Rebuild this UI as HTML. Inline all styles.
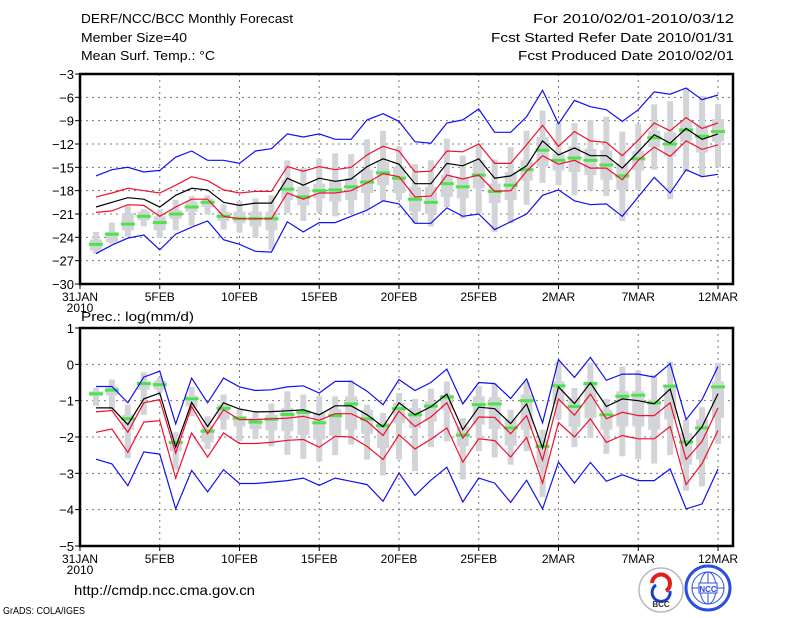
<!DOCTYPE html>
<html><head><meta charset="utf-8"><style>
html,body{margin:0;padding:0;background:#fff;}
svg{display:block;font-family:"Liberation Sans",sans-serif;}
</style></head><body>
<svg id="chart" width="800" height="618" viewBox="0 0 800 618" xmlns="http://www.w3.org/2000/svg">
<rect width="800" height="618" fill="#fff"/>
<g font-size="13" fill="#000">
<text x="81" y="23" textLength="212" lengthAdjust="spacingAndGlyphs">DERF/NCC/BCC Monthly Forecast</text>
<text x="81" y="42" textLength="106" lengthAdjust="spacingAndGlyphs">Member Size=40</text>
<text x="81" y="60" textLength="134" lengthAdjust="spacingAndGlyphs">Mean Surf. Temp.: °C</text>
<text x="533" y="23" textLength="201" lengthAdjust="spacingAndGlyphs">For 2010/02/01-2010/03/12</text>
<text x="491" y="42" textLength="243" lengthAdjust="spacingAndGlyphs">Fcst Started Refer Date 2010/01/31</text>
<text x="518" y="60" textLength="216" lengthAdjust="spacingAndGlyphs">Fcst Produced Date 2010/02/01</text>
<text x="81" y="321" textLength="113" lengthAdjust="spacingAndGlyphs">Prec.: log(mm/d)</text>
<text x="74" y="595" font-size="14" textLength="181" lengthAdjust="spacingAndGlyphs">http://cmdp.ncc.cma.gov.cn</text>
<text x="3" y="614" font-size="10" textLength="82" lengthAdjust="spacingAndGlyphs">GrADS: COLA/IGES</text>
</g>
<g id="top"></g>
<g id="bot"></g>
<g>
<circle cx="661" cy="590" r="22" fill="#fff" stroke="#bbb" stroke-width="1.5"/>
<path d="M652 583 a9 9 0 1 1 14 8" fill="none" stroke="#e02020" stroke-width="4"/>
<path d="M670 591 a9 9 0 1 1 -14 -6" fill="none" stroke="#1a3fd0" stroke-width="3"/>
<text x="661" y="607" font-size="8" font-weight="bold" text-anchor="middle" fill="#333">BCC</text>
</g>
<g>
<circle cx="708" cy="588" r="22" fill="#fff" stroke="#2a4fe0" stroke-width="3"/>
<ellipse cx="708" cy="588" rx="16" ry="16" fill="none" stroke="#2a4fe0" stroke-width="1"/>
<line x1="692" y1="588" x2="724" y2="588" stroke="#2a4fe0"/>
<line x1="708" y1="572" x2="708" y2="604" stroke="#2a4fe0"/>
<ellipse cx="708" cy="588" rx="8" ry="16" fill="none" stroke="#2a4fe0"/>
<rect x="699" y="583" width="18" height="10" fill="#fff" stroke="#2a4fe0"/>
<text x="708" y="592" font-size="8" font-weight="bold" text-anchor="middle" fill="#2a4fe0">NCC</text>
</g>
</svg>
<script>
// ---- temperature data (days 1..40 = 1FEB..12MAR) ----
const tBlueU=[-16.1,-15.3,-15.0,-15.6,-15.4,-13.7,-12.9,-14.1,-14.1,-14.5,-12.9,-12.6,-10.7,-11.1,-10.7,-11.4,-11.4,-8.9,-8.1,-9.1,-11.7,-11.9,-9.3,-8.9,-7.5,-10.5,-10.5,-8.5,-5.1,-9.4,-6.4,-7.2,-7.6,-9.1,-7.6,-5.3,-5.6,-4.8,-6.3,-5.7];
const tRedU=[-18.8,-18.3,-17.7,-18.0,-18.3,-17.3,-16.2,-16.7,-17.9,-18.3,-18.1,-18.1,-14.9,-15.5,-14.9,-15.3,-15.0,-13.4,-12.3,-12.9,-15.6,-15.5,-12.9,-13.0,-12.0,-14.5,-14.5,-12.1,-9.6,-12.3,-10.4,-11.6,-11.8,-13.5,-11.5,-9.3,-10.3,-8.6,-10.0,-9.3];
const tMean=[-20.1,-19.5,-18.9,-19.1,-20.1,-18.6,-17.7,-17.9,-19.5,-19.9,-19.6,-19.6,-16.4,-17.3,-16.4,-16.8,-16.5,-14.9,-13.9,-14.6,-17.1,-17.1,-14.5,-14.8,-13.9,-16.4,-16.1,-14.8,-11.6,-13.4,-12.5,-13.5,-13.5,-15.1,-13.0,-10.8,-11.9,-10.0,-11.4,-10.7];
const tRedL=[-20.8,-20.6,-19.8,-19.9,-21.3,-20.1,-19.1,-19.1,-21.3,-21.6,-21.6,-21.6,-18.3,-19.1,-18.3,-18.3,-18.0,-17.0,-15.8,-16.2,-18.8,-18.7,-16.0,-16.5,-16.0,-18.1,-18.0,-15.5,-13.5,-14.6,-14.1,-15.1,-15.1,-16.6,-14.1,-12.4,-13.6,-11.6,-12.7,-12.1];
const tBlueL=[-26.1,-25.0,-24.1,-23.7,-25.6,-23.6,-22.7,-21.9,-24.3,-24.9,-25.8,-25.9,-22.0,-23.3,-22.1,-22.1,-21.3,-20.5,-19.3,-19.7,-22.2,-22.2,-20.2,-21.3,-21.0,-23.0,-22.0,-21.0,-18.6,-17.9,-19.3,-19.8,-19.7,-21.3,-18.8,-16.3,-18.3,-15.3,-16.2,-15.9];
const tObs=[-24.9,-23.6,-22.3,-21.3,-22.1,-21.0,-20.1,-19.5,-21.3,-21.6,-21.6,-21.6,-17.8,-18.8,-18.0,-17.9,-17.5,-16.9,-15.7,-16.4,-19.1,-19.5,-17.1,-17.5,-16.0,-18.1,-17.3,-15.3,-12.8,-14.1,-13.8,-14.1,-14.7,-16.1,-13.9,-11.2,-12.0,-10.2,-11.0,-10.4];
const tWhiskHi=[-23.3,-22.1,-19.9,-20.4,-20.4,-19.2,-18.7,-18.6,-19.8,-19.3,-19.0,-18.6,-14.1,-15.1,-13.9,-13.2,-13.3,-11.4,-10.3,-12.3,-14.6,-14.1,-11.3,-13.5,-11.9,-14.0,-12.4,-10.3,-7.7,-9.3,-9.3,-8.9,-8.5,-10.4,-9.4,-6.9,-6.5,-4.8,-5.8,-6.9];
const tWhiskLo=[-26.1,-24.8,-23.9,-22.6,-24.1,-23.1,-22.5,-21.1,-23.0,-23.4,-24.1,-25.6,-20.9,-21.9,-20.8,-21.3,-21.0,-20.4,-19.3,-19.2,-22.2,-22.6,-20.1,-21.6,-20.9,-23.3,-22.2,-19.8,-17.0,-17.3,-18.6,-18.0,-18.7,-21.9,-17.9,-15.3,-19.1,-15.6,-16.2,-15.0];
const tBoxHi=[-24.3,-23.3,-20.9,-20.7,-21.3,-20.5,-19.4,-19.0,-20.7,-20.7,-20.7,-20.7,-16.6,-17.5,-17.1,-16.6,-16.4,-15.3,-14.3,-14.9,-17.5,-17.5,-16.0,-16.4,-14.1,-17.1,-15.6,-14.1,-11.1,-13.3,-12.3,-12.6,-12.8,-14.5,-12.9,-10.3,-10.5,-9.1,-9.6,-8.8];
const tBoxLo=[-25.7,-24.6,-23.1,-21.8,-23.1,-21.6,-20.7,-20.1,-21.9,-22.2,-22.6,-23.1,-19.2,-19.9,-19.0,-19.4,-19.2,-18.3,-17.3,-18.3,-20.7,-21.0,-18.8,-19.0,-17.7,-19.6,-19.2,-16.7,-14.9,-15.4,-15.6,-16.0,-16.6,-17.9,-15.4,-12.4,-13.6,-11.7,-13.1,-11.7];
const tYTicks=[-3,-6,-9,-12,-15,-18,-21,-24,-27,-30];
// ---- precipitation data ----
const pBlueU=[-0.61,-0.61,-1.06,-0.35,-0.19,-1.64,-0.38,-1.06,-0.38,-0.62,-0.72,-0.70,-0.62,-0.59,-0.79,-0.47,-0.47,-0.74,-1.11,-0.42,-0.72,-0.50,-0.13,-1.09,-0.50,-0.53,-0.94,-0.40,-1.61,0.13,-0.36,0.19,-0.44,-0.27,-0.27,-0.35,0.02,-1.52,-0.97,-0.06];
const pRedU=[-1.31,-1.27,-1.87,-1.06,-0.97,-2.44,-1.16,-1.91,-1.25,-1.52,-1.52,-1.50,-1.48,-1.43,-1.54,-1.36,-1.36,-1.57,-1.96,-1.29,-1.71,-1.45,-1.06,-2.03,-1.45,-1.46,-1.91,-1.41,-2.64,-0.95,-1.40,-0.82,-1.50,-1.32,-1.41,-1.41,-1.06,-2.62,-2.12,-1.20];
const pMean=[-1.20,-1.20,-1.66,-0.95,-0.79,-2.28,-1.05,-1.71,-1.06,-1.23,-1.31,-1.30,-1.28,-1.25,-1.39,-1.14,-1.14,-1.39,-1.72,-1.06,-1.39,-1.17,-0.82,-1.80,-1.18,-1.22,-1.63,-1.09,-2.30,-0.62,-1.08,-0.51,-1.16,-0.95,-1.00,-1.09,-0.68,-2.24,-1.72,-0.81];
const pRedL=[-1.87,-1.78,-2.42,-1.59,-1.55,-3.13,-1.89,-2.55,-1.89,-2.18,-2.18,-2.15,-2.09,-2.07,-2.28,-1.98,-2.00,-2.26,-2.62,-1.94,-2.33,-2.06,-1.75,-2.69,-2.05,-2.10,-2.55,-2.01,-3.27,-1.60,-2.00,-1.50,-2.15,-1.96,-2.05,-2.05,-1.71,-3.31,-2.73,-1.82];
const pBlueL=[-2.61,-2.74,-3.34,-2.41,-2.47,-3.98,-2.92,-3.51,-2.90,-3.28,-3.28,-3.24,-3.20,-3.13,-3.33,-3.13,-3.22,-3.31,-3.77,-2.99,-3.61,-3.19,-2.83,-3.79,-3.13,-3.27,-3.80,-3.19,-3.98,-2.69,-3.27,-2.70,-3.22,-3.04,-3.20,-3.20,-2.88,-3.98,-3.84,-2.88];
const pObs=[-0.81,-0.71,-1.50,-0.53,-0.56,-2.15,-0.95,-1.84,-1.21,-1.48,-1.59,-1.51,-1.38,-1.32,-1.61,-1.41,-1.09,-1.50,-1.69,-1.22,-1.39,-1.15,-0.90,-1.95,-1.11,-1.09,-1.75,-1.00,-2.26,-0.59,-1.16,-0.53,-1.39,-0.88,-0.85,-1.06,-0.60,-2.14,-1.75,-0.62];
const pWhiskHi=[-0.65,-0.42,-1.11,-0.22,-0.36,-1.87,-0.62,-1.43,-0.83,-1.25,-1.32,-1.08,-0.74,-0.83,-0.88,-0.88,-0.44,-1.11,-1.34,-0.79,-0.95,-0.67,-0.47,-1.48,-0.59,-0.53,-1.25,-0.47,-1.80,0.08,-0.65,0.04,-0.95,-0.06,-0.17,-0.28,0.08,-1.52,-1.18,0.04];
const pWhiskLo=[-1.14,-1.25,-2.58,-1.39,-0.78,-2.90,-1.43,-2.33,-1.80,-2.12,-2.06,-2.26,-2.49,-2.60,-2.67,-2.50,-2.21,-2.62,-3.06,-2.62,-2.94,-2.28,-2.12,-3.17,-2.39,-2.56,-2.76,-2.39,-3.65,-1.52,-2.28,-2.03,-2.46,-2.53,-2.62,-2.73,-2.50,-3.48,-3.36,-2.19];
const pBoxHi=[-0.74,-0.61,-1.39,-0.47,-0.45,-2.10,-0.86,-1.69,-1.11,-1.43,-1.48,-1.39,-1.20,-1.25,-1.34,-1.23,-0.88,-1.25,-1.61,-1.06,-1.20,-1.02,-0.83,-1.71,-0.88,-0.91,-1.52,-0.83,-2.07,-0.47,-0.93,-0.47,-1.25,-0.74,-0.74,-0.97,-0.56,-1.89,-1.52,-0.47];
const pBoxLo=[-0.88,-0.85,-1.80,-0.70,-0.70,-2.39,-1.16,-2.15,-1.52,-1.71,-1.78,-1.82,-1.84,-1.94,-2.07,-1.96,-1.80,-1.91,-2.30,-1.61,-1.75,-1.57,-1.25,-2.26,-1.66,-1.78,-2.24,-1.80,-2.85,-1.08,-1.72,-1.48,-1.80,-1.71,-1.71,-1.80,-1.52,-2.76,-2.62,-1.48];
const pYTicks=[1,0,-1,-2,-3,-4,-5];
const xTickLabels=["31JAN","5FEB","10FEB","15FEB","20FEB","25FEB","2MAR","7MAR","12MAR"];
const xTickDays=[0,5,10,15,20,25,30,35,40];

const NS="http://www.w3.org/2000/svg";
function mk(parent,tag,attrs){const e=document.createElementNS(NS,tag);for(const k in attrs)e.setAttribute(k,attrs[k]);parent.appendChild(e);return e;}
const X0=80,X1=733,DX=15.95;
function xs(d){return X0+d*DX;}

function panel(g,top,bot,vmax,vmin,yticks,S,name){
  const ys=v=>top+(vmax-v)/(vmax-vmin)*(bot-top);
  yticks.forEach(v=>{
    if(v!==vmax&&v!==vmin){const l=mk(g,'line',{x1:X0,x2:X1,y1:ys(v),y2:ys(v),stroke:'#777','stroke-dasharray':'2,4','stroke-width':1});
    
    }
    mk(g,'line',{x1:X0-5,x2:X0,y1:ys(v),y2:ys(v),stroke:'#000'});
    const tx=mk(g,'text',{x:X0-6,y:ys(v)+5,'text-anchor':'end','font-size':13});
    tx.textContent=String(v).replace('-','\u2212');
    
    
  });
  xTickDays.forEach((d,i)=>{
    if(d>0){const l=mk(g,'line',{x1:xs(d),x2:xs(d),y1:top,y2:bot,stroke:'#777','stroke-dasharray':'2,4'});
    
    }
    mk(g,'line',{x1:xs(d),x2:xs(d),y1:bot,y2:bot+5,stroke:'#000'});
    const tx=mk(g,'text',{x:xs(d),y:bot+17,'text-anchor':'middle','font-size':12});
    tx.textContent=xTickLabels[i];
    
    
  });
  const yr=mk(g,'text',{x:xs(0),y:bot+28,'text-anchor':'middle','font-size':12});
  yr.textContent='2010';
  
  
  for(let i=0;i<S.obs.length;i++){
    const x=xs(i+1);
    const w=mk(g,'rect',{x:x-3,y:ys(S.wh[i]),width:6,height:Math.max(1,ys(S.wl[i])-ys(S.wh[i])),fill:'#d3d4d8'});
    
    
    const b=mk(g,'rect',{x:x-6,y:ys(S.bh[i]),width:12,height:Math.max(1,ys(S.bl[i])-ys(S.bh[i])),fill:'#d3d4d8'});
    
    
  }
  for(let i=0;i<S.obs.length;i++){
    const x=xs(i+1);
    const o=mk(g,'rect',{x:x-7,y:ys(S.obs[i])-1.5,width:14,height:3,fill:'#4ce44c'});
    
    
  }
  const line=(arr,col,nm)=>{
    const p=mk(g,'polyline',{points:arr.map((v,i)=>xs(i+1)+','+ys(v).toFixed(1)).join(' '),fill:'none',stroke:col,'stroke-width':1.2});
    
    
  };
  line(S.bu,'#1010f0',name+'-max-line');
  line(S.bl2,'#1010f0',name+'-min-line');
  line(S.ru,'#f01030',name+'-upper-sd-line');
  line(S.rl,'#f01030',name+'-lower-sd-line');
  line(S.m,'#000',name+'-ensemble-mean-line');
  const f=mk(g,'rect',{x:X0,y:top,width:X1-X0,height:bot-top,fill:'none',stroke:'#000','stroke-width':2.5});
  
  
}
panel(document.getElementById('top'),74,284,-3,-30,tYTicks,
 {obs:tObs,wh:tWhiskHi,wl:tWhiskLo,bh:tBoxHi,bl:tBoxLo,bu:tBlueU,bl2:tBlueL,ru:tRedU,rl:tRedL,m:tMean},'temp');
panel(document.getElementById('bot'),328,546,1,-5,pYTicks,
 {obs:pObs,wh:pWhiskHi,wl:pWhiskLo,bh:pBoxHi,bl:pBoxLo,bu:pBlueU,bl2:pBlueL,ru:pRedU,rl:pRedL,m:pMean},'precip');
</script>
</body></html>
